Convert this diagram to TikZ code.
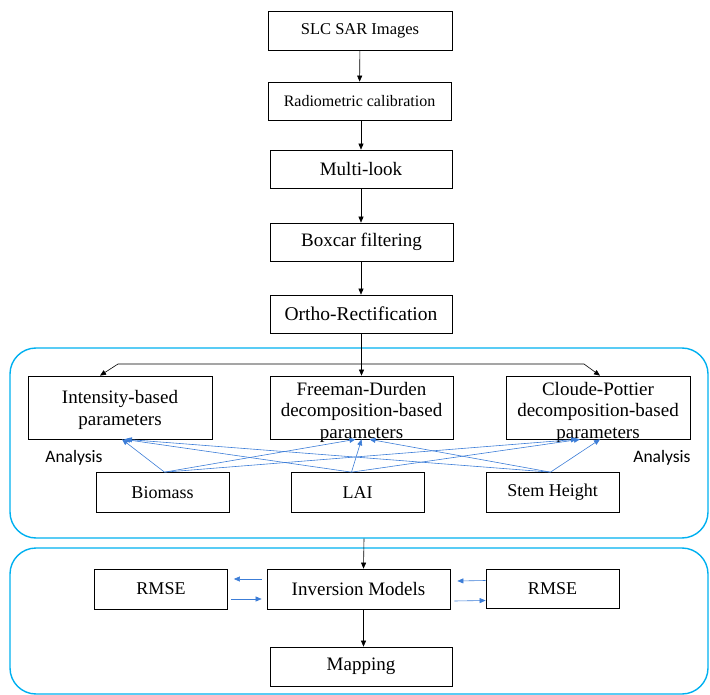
\documentclass[tikz,border=0pt]{standalone}
\usepackage{fontspec}
\setmainfont{Liberation Serif}
\newfontfamily\anafont{Carlito}
\usetikzlibrary{arrows.meta}
\definecolor{frame}{RGB}{0,176,240}
\definecolor{link}{RGB}{60,125,215}

\begin{document}
\begin{tikzpicture}[x=1pt,y=-1pt,
    box/.style={draw,line width=0.7pt,inner sep=0pt,minimum width=183pt,minimum height=38pt,
      font=\fontsize{19}{22}\selectfont},
    small/.style={box,minimum width=133pt,minimum height=40pt,font=\fontsize{18}{22}\selectfont},
    txt/.style={inner sep=0pt,align=center,font=\fontsize{19}{21.5}\selectfont},
    panel/.style={draw=frame,line width=1.4pt,rounded corners=26pt,inner sep=0pt},
    arr/.style={-{Triangle[length=6pt,width=5pt]},line width=0.6pt},
    blue arr/.style={-{Triangle[length=6pt,width=5pt]},draw=link,line width=0.6pt}]
    \useasboundingbox (0,0) rectangle (710,695);
    %% Draw the panels
    \node[panel,minimum width=698pt,minimum height=190pt] (upper) at (359,443) {};
    \node[panel,minimum width=698pt,minimum height=146pt] (lower) at (359,621) {};
    %% Draw the preprocessing chain
    \node[box,minimum width=184pt,minimum height=39pt,font=\fontsize{16.5}{20}\selectfont] (slc) at (360,31) {SLC SAR Images};
    \node[box,font=\fontsize{16}{20}\selectfont] (radio) at (359.5,101) {Radiometric calibration};
    \node[box,minimum width=182pt] (multi) at (361,169) {Multi-look};
    \node[box] (boxcar) at (361.5,242) {Boxcar filtering};
    \node[box,minimum width=182pt,font=\fontsize{19.5}{22}\selectfont] (ortho) at (361,314) {Ortho-Rectification};
    %% Draw the parameter boxes
    \node[box,minimum width=184pt,minimum height=63pt] (ib) at (120,407.5) {};
    \node[txt] (ibt) at (120,410) {Intensity-based\\parameters};
    \node[box,minimum width=183pt,minimum height=63pt] (fd) at (361.5,407.5) {};
    \node[txt,anchor=north] (fdt) at (361.5,382) {Freeman-Durden\\decomposition-based\\parameters};
    \node[box,minimum width=184pt,minimum height=63pt] (cp) at (598,407.5) {};
    \node[txt,anchor=north] (cpt) at (598,382) {Cloude-Pottier\\decomposition-based\\parameters};
    \node[font=\anafont\fontsize{17.5}{20}\selectfont] (anl) at (74,458) {Analysis};
    \node[font=\anafont\fontsize{17.5}{20}\selectfont] (anr) at (662,458) {Analysis};
    %% Draw the field data
    \node[small] (bio) at (162.5,492.5) {Biomass};
    \node[small] (lai) at (357.5,492.5) {LAI};
    \node[small] (stem) at (552.5,492.5) {Stem Height};
    %% Draw the inversion part
    \node[small] (rmsl) at (161,589) {RMSE};
    \node[box,minimum height=40pt] (inv) at (358.5,589) {Inversion Models};
    \node[small,minimum height=39pt] (rmsr) at (552.5,588.5) {RMSE};
    \node[box,minimum width=182pt,minimum height=39pt] (map) at (361,666.5) {Mapping};
    \coordinate (bl) at (118,364);
    \coordinate (br) at (584,364);
    %% Draw the edges
    \begin{scope}[every path/.style={arr}]
      \draw (slc) -- (radio);
      \draw (radio.south -| multi) -- (multi);
      \draw (multi) -- (boxcar.north -| multi);
      \draw (boxcar.south -| ortho) -- (ortho);
      \draw (ortho.south -| fd) -- (fd);
      \draw[{Triangle[length=6pt,width=5pt]}-{Triangle[length=6pt,width=5pt]}]
        ([xshift=-20pt]ib.north) -- (bl) -- (br) -- ([xshift=2pt]cp.north);
      \draw ([xshift=5pt]upper.south) -- ([xshift=5pt]inv.north);
      \draw ([xshift=5pt]inv.south) -- ([xshift=5pt]inv.south |- map.north);
    \end{scope}
    \begin{scope}[every path/.style={blue arr}]
      \draw ([xshift=2pt]bio.north) -- ([xshift=2pt]ib.south);
      \draw ([xshift=2pt]bio.north) -- ([xshift=-6pt]fd.south);
      \draw ([xshift=2pt]bio.north) -- ([xshift=-21pt]cp.south);
      \draw ([xshift=-6pt]lai.north) -- ([xshift=4pt]ib.south);
      \draw ([xshift=-6pt]lai.north) -- ([xshift=0pt]fd.south);
      \draw ([xshift=-6pt]lai.north) -- ([xshift=-18pt]cp.south);
      \draw ([xshift=-2pt]stem.north) -- ([xshift=6pt]ib.south);
      \draw ([xshift=-2pt]stem.north) -- ([xshift=8pt]fd.south);
      \draw ([xshift=-2pt]stem.north) -- ([xshift=2pt]cp.south);
      \draw ([shift={(-5,-10)}]inv.west) -- ([shift={(6,-10)}]rmsl.east);
      \draw ([shift={(3,10)}]rmsl.east) -- ([shift={(-5,10)}]inv.west);
      \draw ([shift={(0,-8)}]rmsr.west) -- ([shift={(7,-8)}]inv.east);
      \draw ([shift={(4,12)}]inv.east) -- ([shift={(0,12)}]rmsr.west);
    \end{scope}
  \end{tikzpicture}
\end{document}
